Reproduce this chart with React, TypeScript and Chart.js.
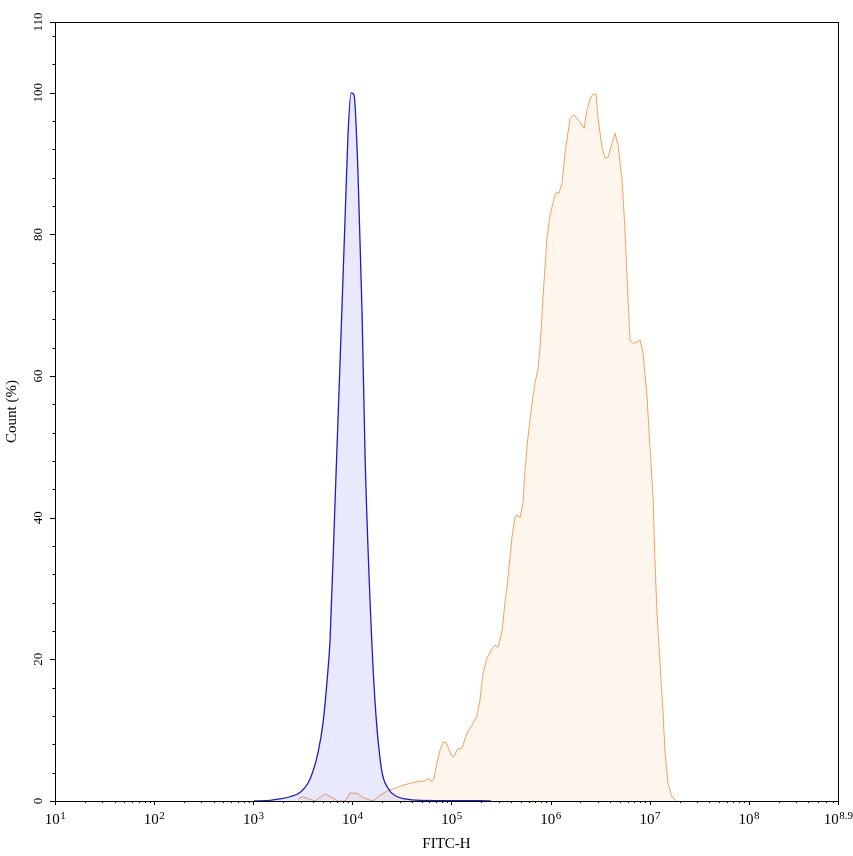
import { useEffect, useRef } from "react";
import { Chart, registerables } from "chart.js";

Chart.register(...registerables);

// x positions are in decades (log10 of FITC-H)
const blueLogX = [
  3.008, 3.17, 3.27, 3.37, 3.472, 3.552, 3.603, 3.653, 3.704, 3.745, 3.775,
  3.825, 3.876, 3.926, 3.956, 3.987, 4.017, 4.057, 4.098, 4.128, 4.178,
  4.229, 4.294, 4.36, 4.44, 4.531, 4.683, 5.288, 5.4,
];
const blueCount = [
  0, 0.1, 0.3, 0.6, 1.2, 2.5, 4.2, 6.8, 11, 17, 22.7, 42, 62, 82, 94, 100,
  99.7, 88.7, 69, 49, 28.5, 14, 4.5, 1.8, 0.7, 0.3, 0.1, 0.05, 0,
];

const orangeLogX = [
  3.452, 3.492, 3.543, 3.623, 3.724, 3.795, 3.855, 3.926, 3.976, 4.047, 4.108,
  4.209, 4.279, 4.36, 4.431, 4.481, 4.582, 4.683, 4.733, 4.763, 4.804, 4.824,
  4.854, 4.885, 4.915, 4.945, 4.985, 5.016, 5.036, 5.056, 5.107, 5.157, 5.207,
  5.258, 5.288, 5.318, 5.359, 5.409, 5.44, 5.47, 5.51, 5.54, 5.561, 5.611,
  5.641, 5.661, 5.692, 5.722, 5.742, 5.772, 5.813, 5.843, 5.873, 5.894, 5.924,
  5.964, 5.994, 6.045, 6.065, 6.085, 6.116, 6.146, 6.196, 6.237, 6.297, 6.338,
  6.368, 6.398, 6.428, 6.459, 6.479, 6.519, 6.549, 6.58, 6.62, 6.65, 6.681,
  6.721, 6.751, 6.781, 6.802, 6.832, 6.872, 6.903, 6.933, 6.973, 7.003, 7.034,
  7.054, 7.074, 7.104, 7.135, 7.155, 7.185, 7.225, 7.266,
];
const orangeCount = [
  0.3, 0.6, 0.4, 0, 1.0, 0.5, 0, 0, 1.1, 1.1, 0.5, 0, 0.8, 1.5, 1.8, 2.1, 2.5,
  2.8, 2.8, 3.2, 2.8, 3.2, 5.4, 7.2, 8.3, 8.3, 6.9, 6.2, 6.5, 7.3, 7.5, 9.6,
  10.7, 12.1, 14.3, 18, 20.2, 21.5, 22, 21.7, 24, 28, 30.2, 37.3, 40.1, 40.4,
  40, 42.1, 46.7, 51.4, 56.2, 59, 61, 64.1, 71.2, 79.6, 82.7, 85.6, 86, 85.8,
  87.3, 91.5, 96.4, 96.9, 95.9, 95, 97.6, 99.2, 99.8, 99.8, 96.5, 92.3, 90.8,
  90.9, 92.9, 94.3, 92.6, 87.7, 80.6, 71.2, 65.1, 64.6, 64.8, 65.1, 63.3, 57.1,
  50, 42.9, 33.6, 26.5, 19.5, 12.4, 6.8, 2.5, 0.6, 0,
];

const xTickValues = [1, 2, 3, 4, 5, 6, 7, 8, 8.9];
const xTickExps = ["1", "2", "3", "4", "5", "6", "7", "8", "8.9"];
const yTickValues = [0, 20, 40, 60, 80, 100, 110];
const yTickLabels = ["0", "20", "40", "60", "80", "100", "110"];

const X_MIN = 1;
const X_MAX = 8.9;
const Y_MAX = 110;
const SERIF = '"Liberation Serif", "Times New Roman", serif';

const axesPlugin = {
  id: "flowAxes",
  afterDraw(chart: any) {
    const { ctx, chartArea: a } = chart;
    const xs = chart.scales.x;
    const ys = chart.scales.y;
    ctx.save();
    ctx.strokeStyle = "#000";
    ctx.lineWidth = 1;
    ctx.strokeRect(a.left + 0.5, a.top + 0.5, a.right - a.left, a.bottom - a.top);

    // x ticks: majors at decades, minors at log10(2..9)
    ctx.beginPath();
    for (let d = 1; d < 9; d++) {
      for (let k = 1; k <= 9; k++) {
        const v = d + Math.log10(k);
        if (v > X_MAX + 1e-6) continue;
        const px = Math.round(xs.getPixelForValue(v)) + 0.5;
        const len = k === 1 ? 4 : 2;
        ctx.moveTo(px, a.bottom);
        ctx.lineTo(px, a.bottom + len);
      }
    }
    const endPx = Math.round(xs.getPixelForValue(X_MAX)) + 0.5;
    ctx.moveTo(endPx, a.bottom);
    ctx.lineTo(endPx, a.bottom + 4);

    // y ticks: majors from list, minors every 4
    for (let v = 0; v <= Y_MAX; v += 4) {
      const py = Math.round(ys.getPixelForValue(v)) + 0.5;
      ctx.moveTo(a.left, py);
      ctx.lineTo(a.left - 2.5, py);
    }
    yTickValues.forEach((v) => {
      const py = Math.round(ys.getPixelForValue(v)) + 0.5;
      ctx.moveTo(a.left, py);
      ctx.lineTo(a.left - 5, py);
    });
    ctx.stroke();

    // x tick labels: 10 with superscript exponent
    ctx.fillStyle = "#000";
    ctx.textBaseline = "alphabetic";
    ctx.textAlign = "left";
    xTickValues.forEach((v, i) => {
      const px = xs.getPixelForValue(v);
      ctx.font = `15px ${SERIF}`;
      const wb = ctx.measureText("10").width;
      ctx.font = `11px ${SERIF}`;
      const we = ctx.measureText(xTickExps[i]).width;
      const left = px - (wb + we) / 2;
      ctx.font = `15px ${SERIF}`;
      ctx.fillText("10", left, a.bottom + 23);
      ctx.font = `11px ${SERIF}`;
      ctx.fillText(xTickExps[i], left + wb + 0.5, a.bottom + 18);
    });

    // y tick labels, rotated
    ctx.font = `13px ${SERIF}`;
    ctx.textAlign = "center";
    ctx.textBaseline = "middle";
    yTickValues.forEach((v, i) => {
      const py = ys.getPixelForValue(v);
      ctx.save();
      ctx.translate(a.left - 16, py);
      ctx.rotate(-Math.PI / 2);
      ctx.fillText(yTickLabels[i], 0, 0);
      ctx.restore();
    });

    // axis titles
    ctx.font = `15px ${SERIF}`;
    ctx.textBaseline = "alphabetic";
    ctx.fillText("FITC-H", (a.left + a.right) / 2, a.bottom + 47);
    ctx.textBaseline = "middle";
    ctx.save();
    ctx.translate(12, (a.top + a.bottom) / 2);
    ctx.rotate(-Math.PI / 2);
    ctx.fillText("Count (%)", 0, 0);
    ctx.restore();
    ctx.restore();
  },
};

export default function App() {
  const canvasRef = useRef<HTMLCanvasElement>(null);

  useEffect(() => {
    if (!canvasRef.current) return;
    const chart = new Chart(canvasRef.current, {
      type: "line",
      data: {
        datasets: [
          {
            label: "Control",
            data: blueLogX.map((x, i) => ({ x, y: blueCount[i] })),
            borderColor: "#1e1ec0",
            borderWidth: 1.3,
            backgroundColor: "rgba(70,70,240,0.12)",
            fill: "origin",
            pointRadius: 0,
            cubicInterpolationMode: "monotone",
          },
          {
            label: "Sample",
            data: orangeLogX.map((x, i) => ({ x, y: orangeCount[i] })),
            borderColor: "#f0a262",
            borderWidth: 1,
            backgroundColor: "rgba(250,200,150,0.18)",
            fill: "origin",
            pointRadius: 0,
            tension: 0,
          },
        ],
      },
      options: {
        animation: false,
        responsive: true,
        maintainAspectRatio: false,
        layout: { padding: { left: 55, top: 22, right: 15, bottom: 55 } },
        plugins: {
          legend: { display: false },
          tooltip: { enabled: false },
        },
        scales: {
          x: { type: "linear", display: false, min: X_MIN, max: X_MAX },
          y: { type: "linear", display: false, min: 0, max: Y_MAX },
        },
      },
      plugins: [axesPlugin],
    });
    return () => chart.destroy();
  }, []);

  return (
    <div
      style={{
        position: "absolute",
        left: 0,
        top: 0,
        width: 853,
        height: 856,
        background: "#fff",
      }}
    >
      <canvas ref={canvasRef}></canvas>
    </div>
  );
}
